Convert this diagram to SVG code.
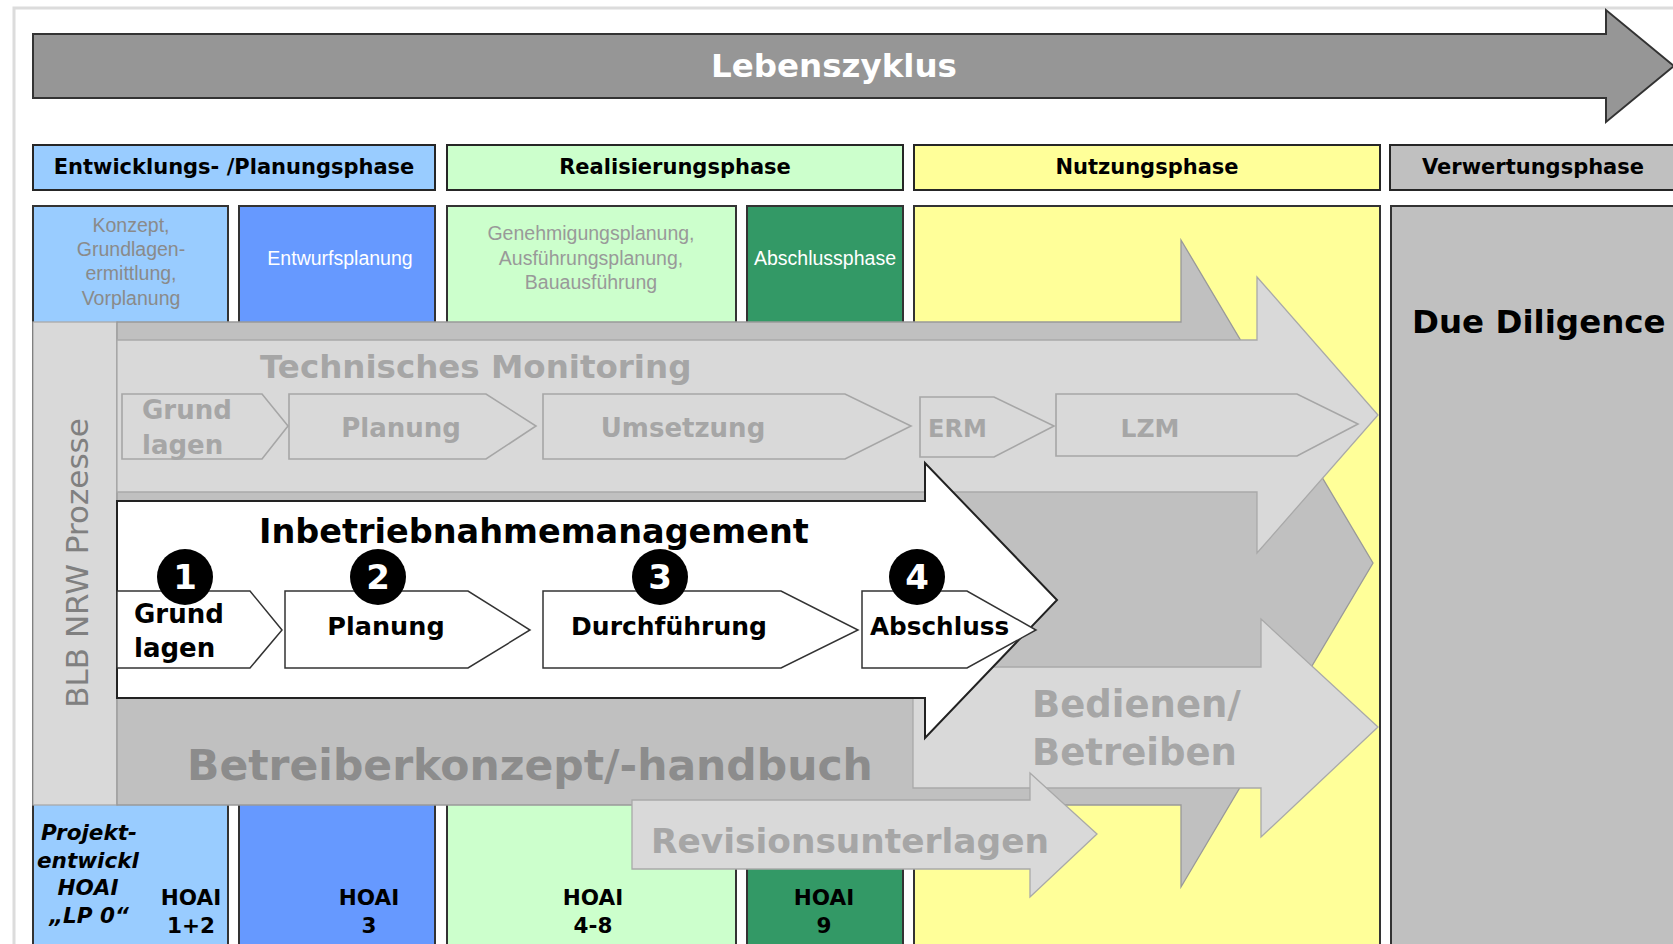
<svg xmlns="http://www.w3.org/2000/svg" width="1673" height="944" viewBox="0 0 1673 944">
<style>
.b{font-family:"DejaVu Sans",Verdana,sans-serif;font-weight:bold}
.bi{font-family:"DejaVu Sans",Verdana,sans-serif;font-weight:bold;font-style:italic}
.r{font-family:"DejaVu Sans",sans-serif}
.l{font-family:"Liberation Sans",Arial,sans-serif;font-size:19.5px}
.hdr{stroke:#262626;stroke-width:2}
.col{stroke:#333;stroke-width:2}
.lg{fill:#d9d9d9;stroke:#a9a9a9;stroke-width:1.3}
.dg{fill:#c0c0c0;stroke:#999;stroke-width:1.3}
.chv{fill:#d9d9d9;stroke:#a6a6a6;stroke-width:1.6}
.wchv{fill:#fff;stroke:#333;stroke-width:1.5}
.gt{fill:#a6a6a6}
.c{text-anchor:middle}
</style>
<rect width="1673" height="944" fill="#fff"/>
<path d="M14 944 V8 H1673" fill="none" stroke="#dcdcdc" stroke-width="3"/>

<g id="lebenszyklus">
<polygon points="33,34 1606,34 1606,10 1674,66 1606,122 1606,98 33,98" fill="#969696" stroke="#333" stroke-width="2"/>
<text x="834" y="77" class="b c" font-size="32.5" fill="#fff">Lebenszyklus</text>
</g>

<g id="phase-entwicklung">
<rect x="33" y="145" width="402" height="45" fill="#99ccff" class="hdr"/>
<text x="234" y="174" class="b c" font-size="21" fill="#000">Entwicklungs- /Planungsphase</text>
</g>
<g id="phase-realisierung">
<rect x="447" y="145" width="456" height="45" fill="#ccffcc" class="hdr"/>
<text x="675" y="174" class="b c" font-size="21" fill="#000">Realisierungsphase</text>
</g>
<g id="phase-nutzung">
<rect x="914" y="145" width="466" height="45" fill="#ffff99" class="hdr"/>
<text x="1147" y="174" class="b c" font-size="21" fill="#000">Nutzungsphase</text>
</g>
<g id="phase-verwertung">
<rect x="1390" y="145" width="300" height="45" fill="#c0c0c0" class="hdr"/>
<text x="1533" y="174" class="b c" font-size="21" fill="#000">Verwertungsphase</text>
</g>

<g id="col-konzept">
<rect x="33" y="206" width="195" height="750" fill="#99ccff" class="col"/>
<text class="l c" fill="#8a8a8a"><tspan x="131" y="232">Konzept,</tspan><tspan x="131" y="256">Grundlagen-</tspan><tspan x="131" y="280">ermittlung,</tspan><tspan x="131" y="305">Vorplanung</tspan></text>
</g>
<g id="col-entwurf">
<rect x="239" y="206" width="196" height="750" fill="#6699ff" class="col"/>
<text x="340" y="265" class="l c" fill="#fff">Entwurfsplanung</text>
</g>
<g id="col-genehmigung">
<rect x="447" y="206" width="289" height="750" fill="#ccffcc" class="col"/>
<text class="l c" fill="#999"><tspan x="591" y="240">Genehmigungsplanung,</tspan><tspan x="591" y="265">Ausführungsplanung,</tspan><tspan x="591" y="289">Bauausführung</tspan></text>
</g>
<g id="col-abschlussphase">
<rect x="747" y="206" width="156" height="750" fill="#339966" class="col"/>
<text x="825" y="265" class="l c" fill="#fff">Abschlussphase</text>
</g>
<g id="col-nutzung">
<rect x="914" y="206" width="466" height="750" fill="#ffff99" class="col"/>
</g>
<g id="col-verwertung">
<rect x="1391" y="206" width="300" height="750" fill="#c0c0c0" class="col"/>
<text x="1412" y="333" class="b" font-size="32.5" fill="#000">Due Diligence</text>
</g>

<g id="hoai-0-2">
<text class="bi" font-size="21.5" fill="#000"><tspan x="41" y="840">Projekt-</tspan><tspan x="37" y="868">entwickl</tspan><tspan x="88" y="895" text-anchor="middle">HOAI</tspan><tspan x="89" y="923" text-anchor="middle">„LP 0“</tspan></text>
<text class="b c" font-size="21.5" fill="#000"><tspan x="191" y="905">HOAI</tspan><tspan x="191" y="933">1+2</tspan></text>
</g>
<g id="hoai-3">
<text class="b c" font-size="21.5" fill="#000"><tspan x="369" y="905">HOAI</tspan><tspan x="369" y="933">3</tspan></text>
</g>
<g id="hoai-4-8">
<text class="b c" font-size="21.5" fill="#000"><tspan x="593" y="905">HOAI</tspan><tspan x="593" y="933">4-8</tspan></text>
</g>
<g id="hoai-9">
<text class="b c" font-size="21.5" fill="#000"><tspan x="824" y="905">HOAI</tspan><tspan x="824" y="933">9</tspan></text>
</g>

<g id="blb-prozesse">
<rect x="33" y="322" width="84" height="483" fill="#d9d9d9" stroke="#aaa" stroke-width="1.3"/>
<text transform="translate(88,563) rotate(-90)" class="r c" font-size="31" fill="#808080">BLB NRW Prozesse</text>
</g>

<g id="connectors">
<g id="betreiberkonzept">
<polygon points="117,322 1181,322 1181,240 1373,563 1181,887 1181,805 117,805" class="dg"/>
<text x="187" y="780" class="b" font-size="42.5" fill="#8c8c8c">Betreiberkonzept/-handbuch</text>
</g>

<g id="technisches-monitoring">
<polygon points="117,340 1257,340 1257,277 1378,415 1257,553 1257,492 117,492" class="lg"/>
<text x="260" y="378" class="b gt" font-size="32.5">Technisches Monitoring</text>
<polygon points="122,394 262,394 288,426 262,459 122,459" class="chv"/>
<text class="b gt" font-size="26"><tspan x="142" y="419">Grund</tspan><tspan x="142" y="454">lagen</tspan></text>
<polygon points="289,394 486,394 536,426 486,459 289,459" class="chv"/>
<text x="401" y="437" class="b gt c" font-size="26">Planung</text>
<polygon points="543,394 845,394 911,426 845,459 543,459" class="chv"/>
<text x="683" y="437" class="b gt c" font-size="26">Umsetzung</text>
<polygon points="920,397 994,397 1054,426 994,457 920,457" class="chv"/>
<text x="928" y="437" class="b gt" font-size="24">ERM</text>
<polygon points="1056,394 1297,394 1358,424 1297,456 1056,456" class="chv"/>
<text x="1150" y="437" class="b gt c" font-size="25">LZM</text>
</g>

<g id="bedienen-betreiben">
<polygon points="913,667 1261,667 1261,619 1378,727 1261,837 1261,788 913,788" class="lg"/>
<text class="b gt" font-size="37"><tspan x="1032" y="717">Bedienen/</tspan><tspan x="1032" y="765">Betreiben</tspan></text>
</g>

<g id="inbetriebnahmemanagement">
<polygon points="117,501 925,501 925,463 1057,600 925,738 925,698 117,698" fill="#fff" stroke="#222" stroke-width="2"/>
<text x="259" y="543" class="b" font-size="33.5" fill="#000">Inbetriebnahmemanagement</text>
<polygon points="117,591 250,591 282,630 250,668 117,668" class="wchv"/>
<polygon points="285,591 468,591 530,630 468,668 285,668" class="wchv"/>
<polygon points="543,591 781,591 858,630 781,668 543,668" class="wchv"/>
<polygon points="862,591 967,591 1036,630 967,668 862,668" class="wchv"/>
<text class="b" font-size="26" fill="#000"><tspan x="134" y="623">Grund</tspan><tspan x="134" y="657">lagen</tspan></text>
<text x="386" y="635" class="b c" font-size="25.5" fill="#000">Planung</text>
<text x="669" y="635" class="b c" font-size="25" fill="#000">Durchführung</text>
<text x="870" y="635" class="b" font-size="24.7" fill="#000">Abschluss</text>
<circle cx="185" cy="577" r="28" fill="#000"/>
<circle cx="378" cy="577" r="28" fill="#000"/>
<circle cx="660" cy="577" r="28" fill="#000"/>
<circle cx="917" cy="577" r="28" fill="#000"/>
<text class="b c" font-size="34" fill="#fff"><tspan x="185" y="589">1</tspan><tspan x="378" y="589">2</tspan><tspan x="660" y="589">3</tspan><tspan x="917" y="589">4</tspan></text>
</g>

<g id="revisionsunterlagen">
<polygon points="632,800 1030,800 1030,773 1097,834 1030,897 1030,869 632,869" class="lg"/>
<text x="651" y="853" class="b gt" font-size="34.4">Revisionsunterlagen</text>
</g>
</g>
</svg>
